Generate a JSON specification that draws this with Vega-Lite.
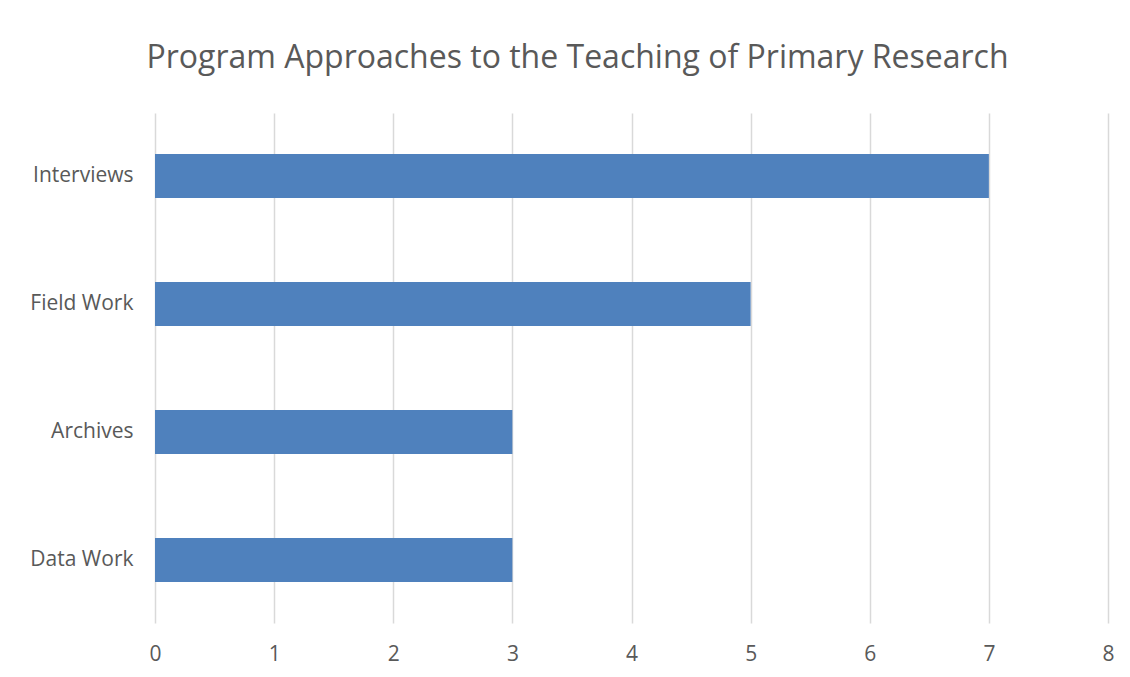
{
  "$schema": "https://vega.github.io/schema/vega-lite/v6.json",
  "autosize": {"type": "none"},
  "width": 953,
  "height": 510,
  "padding": {"left": 155, "top": 113, "right": 22, "bottom": 54},
  "background": "white",
  "title": {
    "text": "Program Approaches to the Teaching of Primary Research",
    "font": "Open Sans",
    "fontSize": 32,
    "fontWeight": "normal",
    "color": "#595959",
    "anchor": "middle",
    "baseline": "alphabetic",
    "offset": 13,
    "dx": -54
  },
  "data": {
    "values": [
      {"approach": "Interviews", "count": 7},
      {"approach": "Field Work", "count": 5},
      {"approach": "Archives\u2002", "count": 3},
      {"approach": "Data Work", "count": 3}
    ]
  },
  "mark": {"type": "bar", "color": "#4F81BD"},
  "encoding": {
    "y": {
      "field": "approach",
      "type": "nominal",
      "sort": null,
      "title": null,
      "scale": {"paddingInner": 0.656, "paddingOuter": 0.32},
      "axis": {
        "domain": false,
        "ticks": false,
        "grid": false,
        "labelFont": "Open Sans",
        "labelFontSize": 21,
        "labelColor": "#595959",
        "labelPadding": 22
      }
    },
    "x": {
      "field": "count",
      "type": "quantitative",
      "title": null,
      "scale": {"domain": [0, 8], "nice": false},
      "axis": {
        "values": [0, 1, 2, 3, 4, 5, 6, 7, 8],
        "domain": false,
        "ticks": false,
        "grid": true,
        "gridColor": "#D9D9D9",
        "gridWidth": 1.5,
        "labelFont": "Open Sans",
        "labelFontSize": 21,
        "labelColor": "#595959",
        "labelPadding": 20,
        "labelFlush": false
      }
    }
  },
  "config": {"view": {"stroke": null}}
}
